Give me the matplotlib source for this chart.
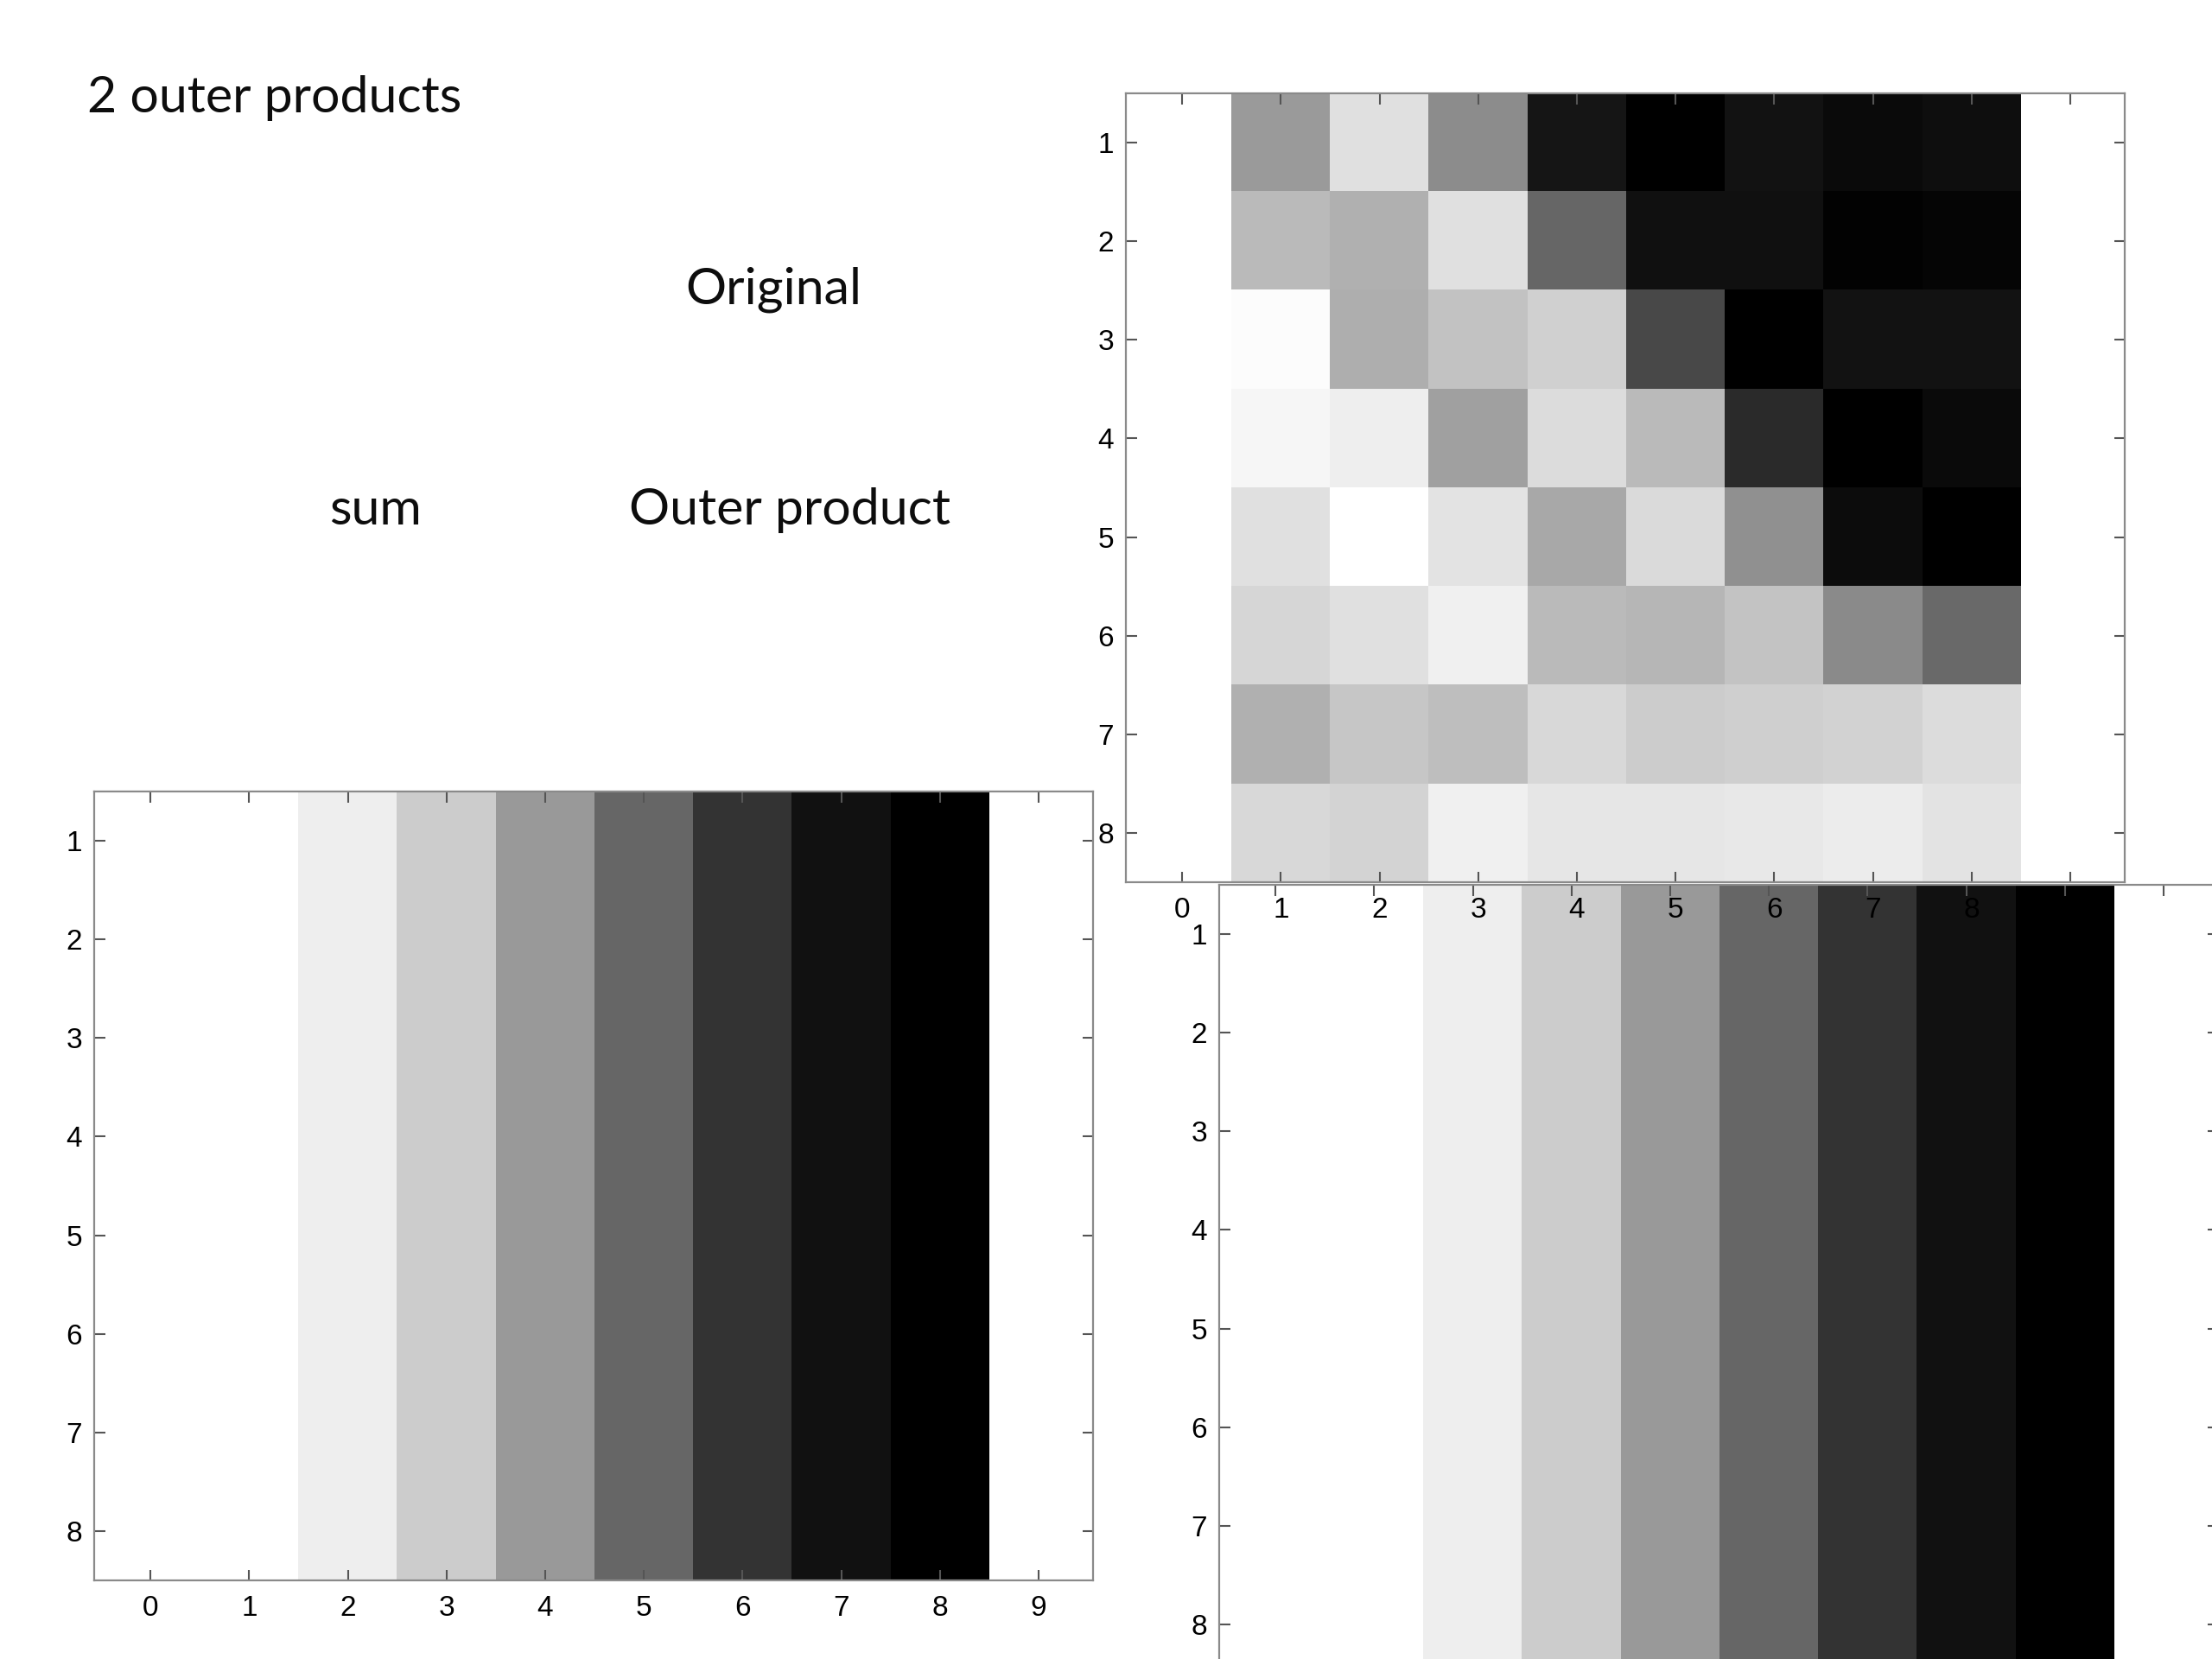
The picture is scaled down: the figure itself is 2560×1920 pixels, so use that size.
import matplotlib.pyplot as plt
import numpy as np

# slide size in pixels (dpi 100)
W, H = 2560, 1920

original = [
    [154, 224, 140, 21, 0, 18, 10, 14],
    [186, 176, 224, 102, 16, 16, 2, 5],
    [252, 174, 194, 208, 72, 0, 18, 18],
    [246, 238, 160, 220, 186, 42, 0, 10],
    [224, 255, 228, 168, 218, 144, 12, 0],
    [214, 224, 240, 186, 182, 196, 138, 106],
    [176, 198, 190, 216, 204, 207, 210, 220],
    [216, 212, 240, 230, 230, 232, 236, 228],
]
# one row of the outer product picture (all 8 rows look the same)
outer_row = [255, 238, 204, 153, 102, 51, 17, 0]
sum_rows = [outer_row] * 8
outer_rows = [outer_row] * 8

xticks = list(range(10))
yticks = list(range(1, 9))

plt.rcParams['font.family'] = ['Liberation Sans', 'DejaVu Sans']

fig = plt.figure(figsize=(W / 100, H / 100), dpi=100)


def panel(left, top, img, xlabels=True):
    # axes box is 1156 x 913 px, placed by its top-left corner
    ax = fig.add_axes([left / W, 1 - (top + 913) / H, 1156 / W, 913 / H])
    ax.imshow(np.array(img), cmap='gray', vmin=0, vmax=255, interpolation='nearest',
              extent=(0.5, 8.5, 8.5, 0.5), aspect='auto')
    ax.set_xlim(-0.57, 9.55)
    ax.set_ylim(8.5, 0.5)
    ax.set_xticks(xticks)
    ax.set_yticks(yticks)
    ax.tick_params(direction='in', length=9, width=1.5, color='#555555',
                   top=True, right=True, labelsize=24, labelcolor='black')
    ax.tick_params(axis='x', pad=12, labelbottom=xlabels)
    ax.tick_params(axis='y', pad=10)
    for s in ax.spines.values():
        s.set_color('#8a8a8a')
        s.set_linewidth(1.6)
    return ax


panel(109, 916, sum_rows)                       # "sum"
panel(1411, 1024, outer_rows, xlabels=False)    # "Outer product", runs off the slide
panel(1303, 108, original)                      # "Original", drawn last so its labels sit on top

tfont = ['Lato', 'DejaVu Sans']
tsize = 42.5
fig.text(101 / W, 1 - 114 / H, '2 outer products', family=tfont, fontsize=tsize,
         ha='left', va='center', color='#0d0d0d')
fig.text(895 / W, 1 - 335 / H, 'Original', family=tfont, fontsize=tsize,
         ha='center', va='center', color='#0d0d0d')
fig.text(434 / W, 1 - 590 / H, 'sum', family=tfont, fontsize=tsize,
         ha='center', va='center', color='#0d0d0d')
fig.text(914 / W, 1 - 590 / H, 'Outer product', family=tfont, fontsize=tsize,
         ha='center', va='center', color='#0d0d0d')

fig.savefig('out.png', dpi=100)
